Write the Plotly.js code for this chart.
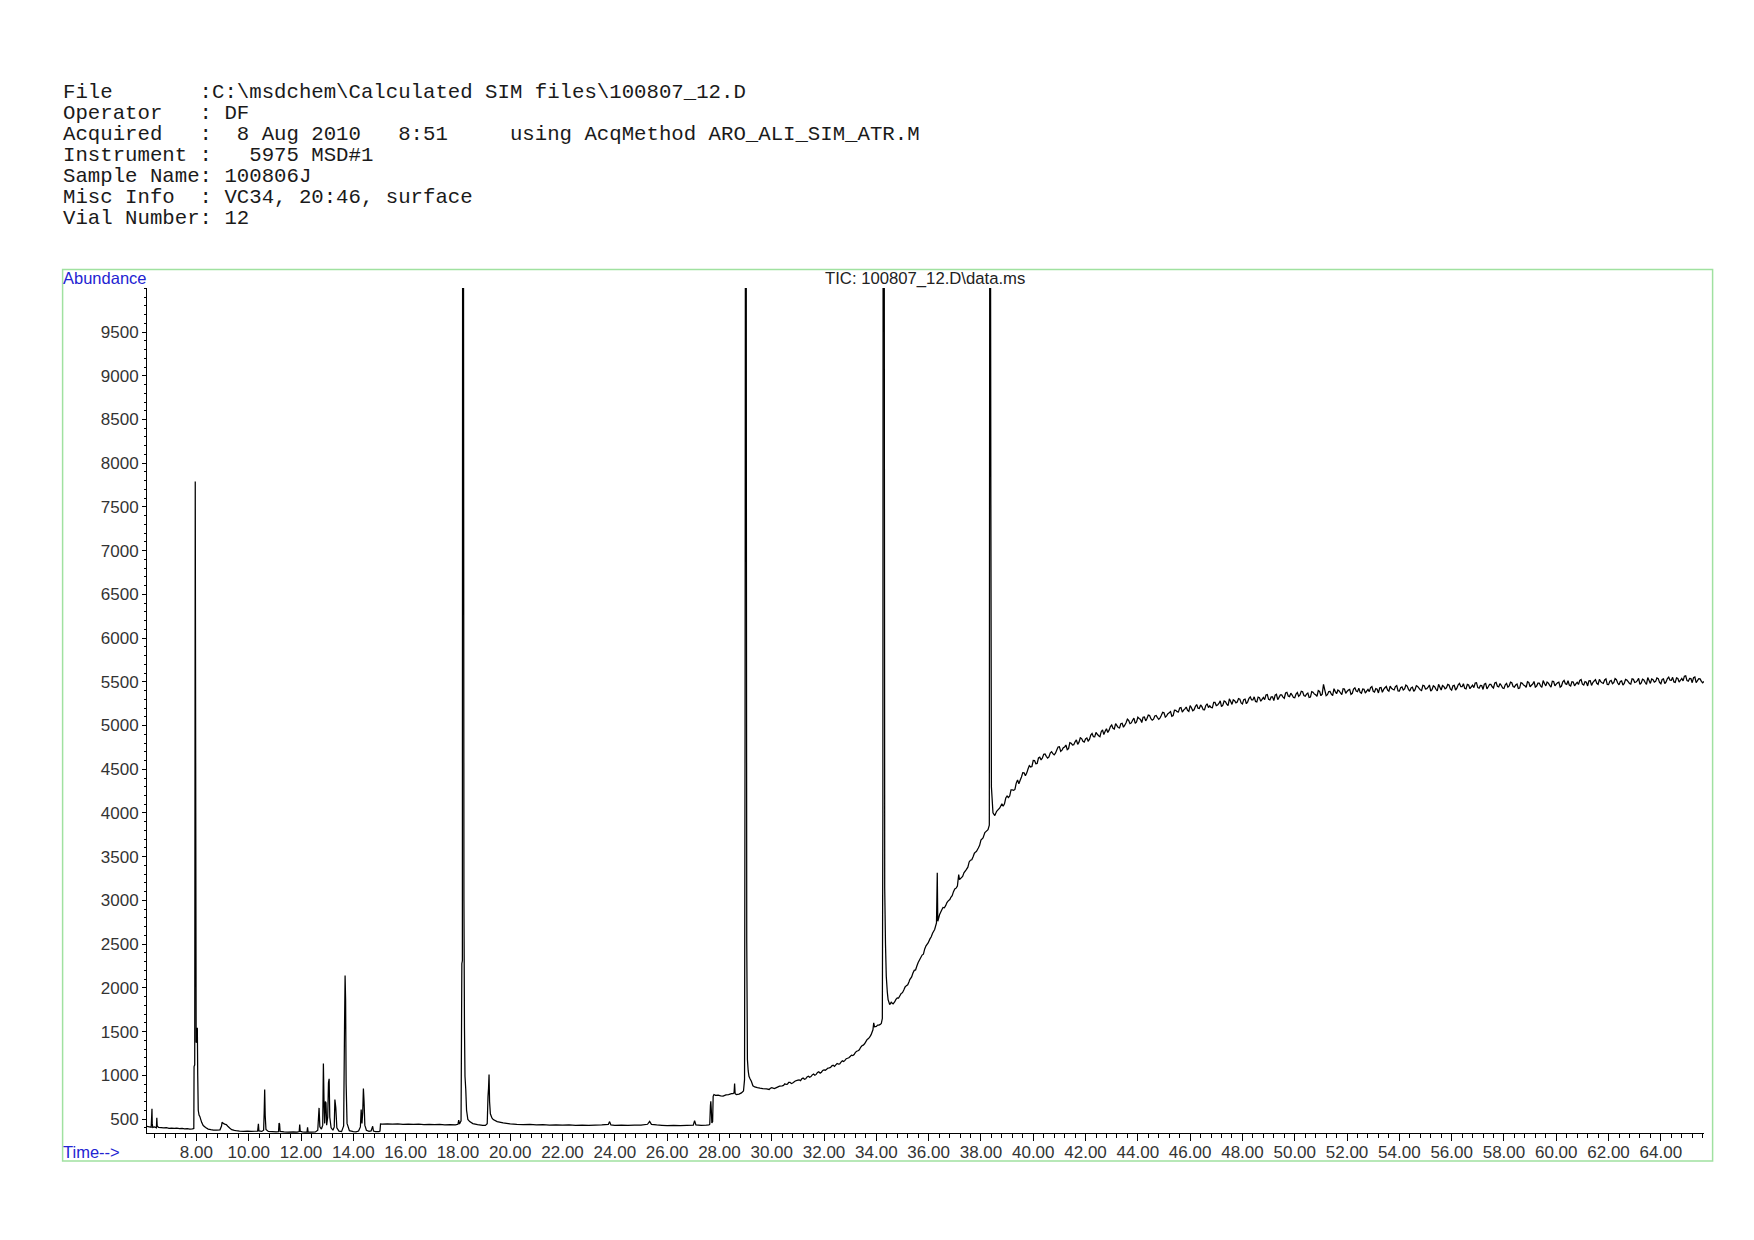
<!DOCTYPE html>
<html>
<head>
<meta charset="utf-8">
<script src="https://cdn.plot.ly/plotly-3.0.1.min.js"></script>
<style>html,body{margin:0;padding:0;background:#fff;}#chart{width:1754px;height:1240px;}</style>
</head>
<body>
<div id="chart"></div>
<script>
// ---------------- DATA ----------------
const headerLines = [
  "File       :C:\\msdchem\\Calculated SIM files\\100807_12.D",
  "Operator   : DF",
  "Acquired   :  8 Aug 2010   8:51     using AcqMethod ARO_ALI_SIM_ATR.M",
  "Instrument :   5975 MSD#1",
  "Sample Name: 100806J",
  "Misc Info  : VC34, 20:46, surface",
  "Vial Number: 12"
];
const plotTitle = "TIC: 100807_12.D\\data.ms";
const yAxisLabel = "Abundance";
const xAxisLabel = "Time-->";
const yTickVals = [500,1000,1500,2000,2500,3000,3500,4000,4500,5000,5500,6000,6500,7000,7500,8000,8500,9000,9500];

const earlyTime = [6.11,6.20,6.27,6.29,6.30,6.31,6.33,6.40,6.47,6.485,6.50,6.55,6.65,6.75,6.85,6.95,7.05,7.15,7.25,7.35,
  7.45,7.55,7.65,7.75,7.85,7.90,7.91,7.935,7.955,7.975,7.99,8.01,8.035,8.05,8.07,8.10,8.13,8.20,8.26,8.35,
  8.45,8.55,8.65,8.77,8.90,8.96,8.98,9.03,9.08,9.14,9.20,9.27,9.35,9.45,9.52,9.65,9.80,9.95,10.10,10.25,
  10.34,10.37,10.39,10.50,10.57,10.59,10.61,10.63,10.66,10.75,10.90,11.05,11.14,11.16,11.18,11.20,11.35,11.50,11.70,11.85,
  11.93,11.95,11.97,12.05,12.15,12.23,12.25,12.27,12.40,12.55,12.64,12.69,12.72,12.78,12.83,12.855,12.88,12.905,12.93,12.955,
  12.98,13.02,13.05,13.075,13.10,13.15,13.22,13.27,13.295,13.33,13.37,13.45,13.55,13.63,13.665,13.685,13.705,13.725,13.76,13.85,
  14.00,14.10,14.20,14.27,14.30,14.33,14.36,14.385,14.41,14.44,14.50,14.60,14.68,14.74,14.77,14.85,14.98,15.02,15.04];
const earlyAbund = [415,411,406,540,616,450,404,409,399,513,420,404,402,398,401,394,397,392,395,389,
  392,387,390,385,388,392,1100,1120,7790,4000,1374,1380,1543,1000,600,545,530,462,425,402,
  385,378,374,372,376,420,463,450,442,436,418,398,378,370,366,362,360,361,358,360,
  362,444,364,358,372,562,837,540,380,357,355,353,356,455,440,358,352,350,352,351,
  356,436,360,352,350,353,406,352,350,352,372,627,410,385,430,1134,690,450,700,684,
  430,520,913,959,520,400,372,410,722,627,400,362,356,420,1600,2140,1858,900,450,366,
  356,353,362,410,608,450,580,848,703,430,372,358,364,417,362,355,356,362,444];

const midTime = [15.10,15.30,15.50,15.70,15.90,16.10,16.30,16.50,16.70,16.90,17.10,17.30,17.50,17.70,17.90,18.00,18.03,18.06,18.12,18.15,
  18.17,18.18,18.21,18.23,18.25,18.27,18.30,18.33,18.38,18.45,18.57,18.75,18.95,19.05,19.12,19.15,19.17,19.19,19.21,19.24,
  19.30,19.35,19.50,19.73,20.00,20.25,20.50,20.75,21.00,21.25,21.50,21.75,22.00,22.25,22.50,22.75,23.00,23.25,23.50,23.75,
  23.80,23.85,24.00,24.25,24.50,24.75,25.00,25.25,25.33,25.40,25.60,25.80,26.00,26.25,26.50,26.75,27.00,27.05,27.10,27.30,
  27.50,27.60];
const midAbund = [442,445,441,444,439,442,438,441,436,440,435,438,433,436,432,440,486,442,480,2278,
  2310,12000,12000,3000,1542,989,837,600,494,470,448,436,428,426,445,760,850,1008,700,560,
  512,494,470,455,445,438,436,440,432,436,430,434,430,433,428,431,427,430,432,438,
  470,432,428,431,426,429,431,440,472,438,432,428,425,428,424,427,430,480,432,428,
  430,432];

const lateTime = [27.63,27.655,27.67,27.69,27.71,27.74,27.76,27.79,27.85,27.95,28.05,28.14,28.25,28.35,28.46,28.52,28.56,28.58,28.60,28.65,
  28.75,28.84,28.92,28.96,28.98,29.00,29.02,29.03,29.045,29.07,29.10,29.13,29.17,29.22,29.28,29.35,29.45,29.55,29.65,29.80,
  29.90,30.00,30.20,30.40,30.50,30.60,30.70,30.80,31.00,31.10,31.20,31.30,31.40,31.50,31.60,31.70,31.80,31.90,32.00,32.10,
  32.20,32.30,32.40,32.50,32.60,32.70,32.80,32.90,33.00,33.10,33.20,33.30,33.40,33.50,33.60,33.70,33.80,33.87,33.90,33.93,
  34.00,34.10,34.19,34.23,34.25,34.26,34.30,34.32,34.35,34.38,34.42,34.45,34.51,34.57,34.64,34.70,34.80,34.89,35.00,35.10,
  35.20,35.28,35.40,35.50,35.60,35.66,35.80,35.90,35.98,36.10,36.23,36.30,36.33,36.35,36.42,36.50,36.60,36.70,36.81,36.90,
  37.00,37.10,37.15,37.18,37.30,37.44,37.55,37.65,37.75,37.83,37.95,38.08,38.15,38.27,38.32,38.34,38.36,38.38,38.40,38.46,
  38.53,38.60,38.72];
const lateAbund = [440,650,703,600,456,470,760,780,770,772,765,761,775,780,791,790,800,905,790,780,
  785,799,820,950,5000,14000,14000,7779,2514,1180,1050,989,960,932,880,867,858,852,848,845,
  838,858,862,880,902,898,920,912,945,938,968,960,990,985,1015,1010,1040,1035,1062,1070,
  1085,1108,1102,1135,1130,1165,1170,1195,1215,1225,1262,1280,1320,1345,1385,1420,1465,1520,1600,1555,
  1560,1575,1592,1650,4000,12000,12000,3143,2500,2133,1950,1866,1809,1835,1817,1838,1885,1904,1945,2010,
  2035,2095,2170,2205,2290,2324,2385,2480,2514,2585,2667,2743,3315,2762,2838,2890,2915,2975,3010,3055,
  3130,3165,3296,3238,3275,3353,3440,3465,3540,3562,3630,3715,3775,3810,3860,12000,12000,7520,4300,4001,
  3970,4020,4058];

// extra scans read between the ones above on the rising baseline (29.9 - 38.3 min)
const lateNoiseTime = [29.95,30.10,30.30,30.45,30.55,30.65,30.75,30.90,31.05,31.15,31.25,31.35,31.45,31.55,31.65,31.75,31.85,31.95,32.05,32.15,
  32.25,32.35,32.45,32.55,32.65,32.75,32.85,32.95,33.05,33.15,33.25,33.35,33.45,33.55,33.65,33.75,34.05,34.15,34.75,34.85,
  34.95,35.05,35.15,35.25,35.35,35.45,35.55,35.75,35.85,36.05,36.15,36.55,36.65,36.75,36.85,36.95,37.05,37.35,37.50,37.60,
  37.70,37.80,37.90,38.00,38.20];
const lateNoiseAbund = [852,848,875,885,895,918,905,935,948,960,955,982,978,1005,1000,1032,1025,1055,1058,1082,
  1090,1115,1120,1128,1150,1158,1190,1200,1230,1238,1275,1292,1338,1360,1410,1438,1575,1582,1868,1882,
  1935,1975,2025,2070,2125,2200,2250,2375,2445,2560,2625,2920,2940,2995,3035,3100,3140,3315,3380,3460,
  3500,3555,3600,3690,3790];

const tailTime = [38.8,38.9,39.0,39.1,39.2,39.3,39.4,39.5,39.6,39.7,
  39.8,39.9,40.0,40.1,40.2,40.3,40.4,40.5,40.6,40.7,
  40.8,40.9,41.0,41.1,41.2,41.3,41.4,41.5,41.6,41.7,
  41.8,41.9,42.0,42.1,42.2,42.3,42.4,42.5,42.6,42.7,
  42.8,42.9,43.0,43.1,43.2,43.3,43.4,43.5,43.6,43.7,
  43.8,43.9,44.0,44.1,44.2,44.3,44.4,44.5,44.6,44.7,
  44.8,44.9,45.0,45.1,45.2,45.3,45.4,45.5,45.6,45.7,
  45.8,45.9,46.0,46.1,46.2,46.3,46.4,46.5,46.6,46.7,
  46.8,46.9,47.0,47.1,47.2,47.3,47.4,47.5,47.6,47.7,
  47.8,47.9,48.0,48.1,48.2,48.3,48.4,48.5,48.6,48.7,
  48.8,48.9,49.0,49.1,49.2,49.3,49.4,49.5,49.6,49.7,
  49.8,49.9,50.0,50.1,50.2,50.3,50.4,50.5,50.6,50.7,
  50.8,50.9,51.0,51.1,51.2,51.3,51.4,51.5,51.6,51.7,
  51.8,51.9,52.0,52.1,52.2,52.3,52.4,52.5,52.6,52.7,
  52.8,52.9,53.0,53.1,53.2,53.3,53.4,53.5,53.6,53.7,
  53.8,53.9,54.0,54.1,54.2,54.3,54.4,54.5,54.6,54.7,
  54.8,54.9,55.0,55.1,55.2,55.3,55.4,55.5,55.6,55.7,
  55.8,55.9,56.0,56.1,56.2,56.3,56.4,56.5,56.6,56.7,
  56.8,56.9,57.0,57.1,57.2,57.3,57.4,57.5,57.6,57.7,
  57.8,57.9,58.0,58.1,58.2,58.3,58.4,58.5,58.6,58.7,
  58.8,58.9,59.0,59.1,59.2,59.3,59.4,59.5,59.6,59.7,
  59.8,59.9,60.0,60.1,60.2,60.3,60.4,60.5,60.6,60.7,
  60.8,60.9,61.0,61.1,61.2,61.3,61.4,61.5,61.6,61.7,
  61.8,61.9,62.0,62.1,62.2,62.3,62.4,62.5,62.6,62.7,
  62.8,62.9,63.0,63.1,63.2,63.3,63.4,63.5,63.6,63.7,
  63.8,63.9,64.0,64.1,64.2,64.3,64.4,64.5,64.6,64.7,
  64.8,64.9,65.0,65.1,65.2,65.3,65.4,65.5,65.6];
const tailAbund = [4106,4104,4194,4194,4263,4269,4378,4374,4462,4426,
  4502,4526,4601,4563,4629,4607,4672,4648,4642,4701,
  4665,4719,4758,4719,4755,4724,4805,4778,4814,4784,
  4860,4819,4846,4823,4891,4873,4922,4883,4930,4897,
  4964,4947,5006,4959,4999,4972,5026,5004,5073,5021,
  5061,5024,5095,5069,5095,5054,5120,5078,5073,5115,
  5071,5117,5146,5111,5147,5106,5175,5159,5200,5154,
  5191,5175,5229,5168,5218,5199,5235,5182,5230,5205,
  5208,5265,5228,5253,5216,5281,5246,5306,5242,5285,
  5269,5302,5246,5302,5271,5327,5293,5276,5325,5278,
  5322,5350,5300,5327,5285,5357,5322,5350,5312,5379,
  5330,5349,5318,5377,5349,5386,5335,5371,5326,5381,
  5352,5400,5341,5470,5341,5388,5359,5422,5363,5396,
  5353,5418,5390,5413,5369,5432,5387,5379,5418,5371,
  5413,5434,5392,5422,5373,5435,5413,5447,5394,5426,
  5407,5458,5393,5441,5418,5451,5394,5440,5410,5448,
  5408,5460,5418,5438,5395,5455,5415,5472,5406,5448,
  5431,5463,5405,5460,5427,5481,5444,5425,5470,5421,
  5461,5487,5434,5458,5413,5482,5444,5470,5429,5493,
  5442,5458,5425,5482,5453,5490,5439,5474,5429,5484,
  5455,5502,5444,5475,5440,5485,5454,5515,5454,5485,
  5440,5503,5474,5497,5452,5515,5471,5462,5501,5454,
  5495,5516,5473,5502,5453,5514,5491,5525,5471,5502,
  5482,5533,5468,5515,5491,5524,5466,5511,5481,5520,
  5481,5534,5492,5513,5470,5531,5492,5549,5482,5524,
  5505,5537,5478,5533,5499,5553,5517,5499,5545,5497,
  5538,5565,5514,5538,5490,5555,5513,5534,5489];

// intermediate scans of the noisy plateau (read between the scans above)
const tailTime2 = [38.85,38.95,39.05,39.15,39.25,39.35,39.45,39.55,39.65,39.75,
  39.85,39.95,40.05,40.15,40.25,40.35,40.45,40.55,40.65,40.75,
  40.85,40.95,41.05,41.15,41.25,41.35,41.45,41.55,41.65,41.75,
  41.85,41.95,42.05,42.15,42.25,42.35,42.45,42.55,42.65,42.75,
  42.85,42.95,43.05,43.15,43.25,43.35,43.45,43.55,43.65,43.75,
  43.85,43.95,44.05,44.15,44.25,44.35,44.45,44.55,44.65,44.75,
  44.85,44.95,45.05,45.15,45.25,45.35,45.45,45.55,45.65,45.75,
  45.85,45.95,46.05,46.15,46.25,46.35,46.45,46.55,46.65,46.75,
  46.85,46.95,47.05,47.15,47.25,47.35,47.45,47.55,47.65,47.75,
  47.85,47.95,48.05,48.15,48.25,48.35,48.45,48.55,48.65,48.75,
  48.85,48.95,49.05,49.15,49.25,49.35,49.45,49.55,49.65,49.75,
  49.85,49.95,50.05,50.15,50.25,50.35,50.45,50.55,50.65,50.75,
  50.85,50.95,51.05,51.15,51.25,51.35,51.45,51.55,51.65,51.75,
  51.85,51.95,52.05,52.15,52.25,52.35,52.45,52.55,52.65,52.75,
  52.85,52.95,53.05,53.15,53.25,53.35,53.45,53.55,53.65,53.75,
  53.85,53.95,54.05,54.15,54.25,54.35,54.45,54.55,54.65,54.75,
  54.85,54.95,55.05,55.15,55.25,55.35,55.45,55.55,55.65,55.75,
  55.85,55.95,56.05,56.15,56.25,56.35,56.45,56.55,56.65,56.75,
  56.85,56.95,57.05,57.15,57.25,57.35,57.45,57.55,57.65,57.75,
  57.85,57.95,58.05,58.15,58.25,58.35,58.45,58.55,58.65,58.75,
  58.85,58.95,59.05,59.15,59.25,59.35,59.45,59.55,59.65,59.75,
  59.85,59.95,60.05,60.15,60.25,60.35,60.45,60.55,60.65,60.75,
  60.85,60.95,61.05,61.15,61.25,61.35,61.45,61.55,61.65,61.75,
  61.85,61.95,62.05,62.15,62.25,62.35,62.45,62.55,62.65,62.75,
  62.85,62.95,63.05,63.15,63.25,63.35,63.45,63.55,63.65,63.75,
  63.85,63.95,64.05,64.15,64.25,64.35,64.45,64.55,64.65,64.75,
  64.85,64.95,65.05,65.15,65.25,65.35,65.45,65.55,65.65];
const tailAbund2 = [4077,4171,4177,4264,4260,4342,4335,4411,4460,4456,
  4542,4532,4600,4567,4638,4629,4674,4628,4686,4678,
  4684,4754,4704,4747,4777,4736,4798,4781,4836,4810,
  4851,4810,4858,4841,4909,4871,4900,4873,4950,4935,
  4920,4989,4968,5022,4977,5021,4981,5032,5058,5030,
  5085,5040,5081,5035,5098,5080,5116,5061,5109,5091,
  5088,5151,5096,5135,5160,5114,5173,5154,5206,5176,
  5211,5163,5204,5180,5241,5195,5216,5180,5249,5226,
  5203,5264,5235,5282,5234,5273,5228,5274,5294,5259,
  5309,5258,5296,5249,5311,5293,5328,5271,5319,5300,
  5296,5355,5294,5328,5347,5297,5350,5325,5372,5337,
  5370,5321,5360,5334,5392,5343,5360,5322,5387,5360,
  5333,5391,5359,5404,5353,5390,5343,5388,5407,5372,
  5421,5369,5405,5356,5416,5395,5428,5370,5415,5394,
  5388,5445,5383,5415,5432,5380,5432,5406,5451,5415,
  5446,5395,5432,5406,5463,5414,5431,5392,5456,5428,
  5400,5456,5422,5464,5410,5444,5395,5439,5457,5421,
  5470,5418,5454,5406,5466,5445,5478,5418,5463,5441,
  5434,5490,5427,5457,5474,5420,5471,5443,5487,5450,
  5480,5429,5466,5439,5496,5447,5464,5425,5490,5463,
  5436,5493,5461,5504,5451,5486,5437,5480,5497,5460,
  5507,5454,5489,5440,5499,5478,5512,5453,5498,5477,
  5470,5527,5464,5495,5512,5459,5510,5483,5528,5490,
  5521,5470,5506,5479,5536,5486,5503,5463,5528,5501,
  5473,5530,5497,5539,5486,5521,5472,5516,5533,5497,
  5544,5492,5527,5479,5538,5518,5551,5493,5538,5518,
  5511,5569,5507,5536,5548,5491,5537,5505,5505];

// ---------------- LAYOUT GEOMETRY ----------------
const W = 1754, H = 1240;
const M = {l: 147, r: 50, t: 288, b: 107};
const plotW = W - M.l - M.r, plotH = H - M.t - M.b;
const px2x = px => (px - M.l) / plotW;
const py2y = py => (H - M.b - py) / plotH;

// merge all scans in time order
const allT = [].concat(earlyTime, midTime, lateTime, lateNoiseTime, tailTime, tailTime2);
const allA = [].concat(earlyAbund, midAbund, lateAbund, lateNoiseAbund, tailAbund, tailAbund2);
const order = allT.map((t, i) => i).sort((a, b) => allT[a] - allT[b]);
const rt = order.map(i => allT[i]);
const ab = order.map(i => allA[i]);

const trace = {
  x: rt, y: ab, type: 'scatter', mode: 'lines',
  line: {color: '#000000', width: 1.25, simplify: false},
  hoverinfo: 'skip', showlegend: false
};

const sansFont = 'Liberation Sans, Arial, sans-serif';
const monoFont = 'Liberation Mono, Courier New, monospace';
const blue = '#2323d2';

const annotations = headerLines.map((s, i) => ({
  text: s.replace(/ /g, '\u00a0'),
  xref: 'paper', yref: 'paper',
  x: px2x(60.5), y: py2y(93 + i * 20.87),
  xanchor: 'left', yanchor: 'middle', showarrow: false,
  font: {family: monoFont, size: 20.7, color: '#1a1a1a'}
}));
annotations.push({
  text: yAxisLabel, xref: 'paper', yref: 'paper',
  x: px2x(61), y: py2y(278.5), xanchor: 'left', yanchor: 'middle', showarrow: false,
  font: {family: sansFont, size: 16.5, color: blue}
});
annotations.push({
  text: xAxisLabel, xref: 'paper', yref: 'paper',
  x: px2x(61), y: py2y(1151.5), xanchor: 'left', yanchor: 'middle', showarrow: false,
  font: {family: sansFont, size: 16.5, color: blue}
});
annotations.push({
  text: plotTitle, xref: 'paper', yref: 'paper',
  x: px2x(925), y: py2y(278.5), xanchor: 'center', yanchor: 'middle', showarrow: false,
  font: {family: sansFont, size: 16.7, color: '#222222'}
});

const layout = {
  width: W, height: H, autosize: false,
  margin: M,
  paper_bgcolor: '#ffffff', plot_bgcolor: '#ffffff',
  showlegend: false,
  hovermode: false,
  font: {family: sansFont, color: '#333333'},
  xaxis: {
    range: [6.11, 65.65], showgrid: false, zeroline: false,
    showline: true, linecolor: '#000000', linewidth: 1,
    ticks: 'outside', ticklen: 7, tickwidth: 1, tickcolor: '#000000',
    ticklabelstandoff: -3,
    tickmode: 'linear', tick0: 0, dtick: 2, tickformat: '.2f',
    tickfont: {family: sansFont, size: 17, color: '#333333'},
    minor: {tickmode: 'linear', tick0: 0, dtick: 0.4, ticks: 'outside', ticklen: 4, tickwidth: 1, tickcolor: '#000000', showgrid: false},
    fixedrange: true
  },
  yaxis: {
    range: [340, 10004], showgrid: false, zeroline: false,
    showline: true, linecolor: '#000000', linewidth: 1,
    ticks: 'outside', ticklen: 4, tickwidth: 1, tickcolor: '#000000',
    tickmode: 'array', tickvals: yTickVals, ticktext: yTickVals.map(String),
    tickfont: {family: sansFont, size: 17, color: '#333333'},
    minor: {tickmode: 'linear', tick0: 0, dtick: 100, ticks: 'outside', ticklen: 2, tickwidth: 1, tickcolor: '#000000', showgrid: false},
    fixedrange: true
  },
  shapes: [{
    type: 'rect', xref: 'paper', yref: 'paper',
    x0: px2x(62.6), x1: px2x(1712.6), y0: py2y(1161), y1: py2y(269.6),
    line: {color: 'rgb(160,225,160)', width: 1.5}, fillcolor: 'rgba(0,0,0,0)', layer: 'below'
  }],
  annotations: annotations
};

Plotly.newPlot('chart', [trace], layout, {displayModeBar: false, staticPlot: true});
</script>
</body>
</html>
